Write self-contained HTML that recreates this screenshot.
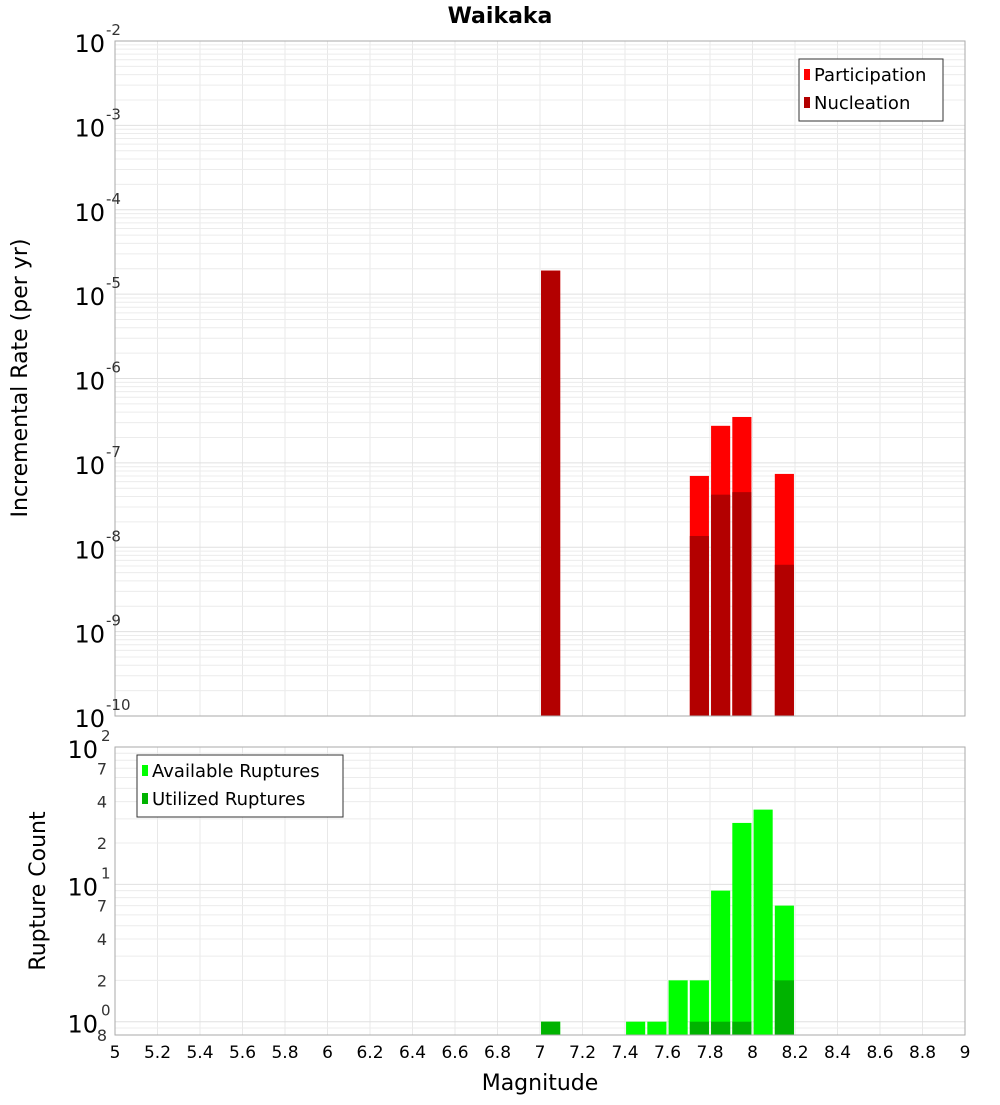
<!DOCTYPE html>
<html><head><meta charset="utf-8"><style>
body{margin:0;background:#fff;font-family:"Liberation Sans","DejaVu Sans",sans-serif}
svg text{font-family:"DejaVu Sans","Liberation Sans",sans-serif}
</style></head><body>
<svg id="c" width="1000" height="1100" xmlns="http://www.w3.org/2000/svg">
<text x="500" y="23" text-anchor="middle" font-size="22" font-weight="bold">Waikaka</text>
<text transform="translate(27,378) rotate(-90)" text-anchor="middle" font-size="22">Incremental Rate (per yr)</text>
<text transform="translate(45,891) rotate(-90)" text-anchor="middle" font-size="22">Rupture Count</text>
<text x="540" y="1090" text-anchor="middle" font-size="22">Magnitude</text>
<g id="topg"></g>
<g id="botg"></g>
</svg>
<script>
const mags=[7.05,7.75,7.85,7.95,8.15];
const participation=[1.9e-5,7e-8,2.75e-7,3.5e-7,7.4e-8];
const nucleation=[1.9e-5,1.36e-8,4.2e-8,4.5e-8,6.2e-9];
const countMags=[7.05,7.45,7.55,7.65,7.75,7.85,7.95,8.05,8.15];
const available=[1,1,1,2,2,9,28,35,7];
const utilized=[1,0,0,0,1,1,1,0,2];
const xTicks=[5,5.2,5.4,5.6,5.8,6,6.2,6.4,6.6,6.8,7,7.2,7.4,7.6,7.8,8,8.2,8.4,8.6,8.8,9];

const NS="http://www.w3.org/2000/svg";
const L=115,R=965;
const X=m=>L+(m-5)/4*(R-L);
const T0=41,T1=716,B0=747,B1=1035;
const Yt=v=>T0+(-2-Math.log10(v))/8*(T1-T0);
const bmin=Math.log10(0.8);
const Yb=v=>B0+(2-Math.log10(v))/(2-bmin)*(B1-B0);
function el(p,t,a){const e=document.createElementNS(NS,t);for(const k in a)e.setAttribute(k,a[k]);p.appendChild(e);return e;}
const gTop=document.getElementById('topg'),gBot=document.getElementById('botg');
el(gTop,'rect',{x:L,y:T0,width:R-L,height:T1-T0,fill:'#fff'});
el(gBot,'rect',{x:L,y:B0,width:R-L,height:B1-B0,fill:'#fff'});
for(const t of xTicks){
  for(const [g,y0,y1] of [[gTop,T0,T1],[gBot,B0,B1]]){
    const l=el(g,'line',{x1:X(t),x2:X(t),y1:y0,y2:y1,stroke:'#e8e8e8','stroke-width':1});
    
    
  }
}
for(let d=-10;d<-2;d++){for(let k=1;k<10;k++){const y=Yt(k*Math.pow(10,d));
  const l=el(gTop,'line',{x1:L,x2:R,y1:y,y2:y,stroke:k==1?'#e0e0e0':'#ececec','stroke-width':1});
  
  }}
for(let d=-1;d<2;d++){for(let k=1;k<10;k++){const v=k*Math.pow(10,d);if(v<0.8)continue;const y=Yb(v);
  const l=el(gBot,'line',{x1:L,x2:R,y1:y,y2:y,stroke:k==1?'#e0e0e0':'#ececec','stroke-width':1});
  
  }}
mags.forEach((m,i)=>{
  const x0=X(m-0.045),w=X(m+0.045)-x0;
  const p=el(gTop,'rect',{x:x0,y:Yt(participation[i]),width:w,height:T1-Yt(participation[i]),fill:'#ff0000'});
  
  
  const n=el(gTop,'rect',{x:x0,y:Yt(nucleation[i]),width:w,height:T1-Yt(nucleation[i]),fill:'#b30000'});
  
  
});
countMags.forEach((m,i)=>{
  const x0=X(m-0.045),w=X(m+0.045)-x0;
  const a=el(gBot,'rect',{x:x0,y:Yb(available[i]),width:w,height:B1-Yb(available[i]),fill:'#00ff00'});
  
  
  if(utilized[i]>0){const u=el(gBot,'rect',{x:x0,y:Yb(utilized[i]),width:w,height:B1-Yb(utilized[i]),fill:'#00b300'});
  
  }
});
el(gTop,'rect',{x:L,y:T0,width:R-L,height:T1-T0,fill:'none',stroke:'#aaa'});
el(gBot,'rect',{x:L,y:B0,width:R-L,height:B1-B0,fill:'none',stroke:'#aaa'});
for(let d=-10;d<=-2;d++){
  const y=Yt(Math.pow(10,d));
  const t=el(gTop,'text',{x:105,y:y+11,'text-anchor':'end','font-size':24});
  
  
  t.textContent='10';
  const s=el(gTop,'text',{x:106,y:y-6,'font-size':15,fill:'#333'});
  
  
  s.textContent=String(d);
}
[[100,'2'],[10,'1'],[1,'0']].forEach(([v,e])=>{const y=Yb(v);
  const t=el(gBot,'text',{x:98,y:y+11,'text-anchor':'end','font-size':24});
  
  
  t.textContent='10';
  const s=el(gBot,'text',{x:101,y:y-6,'font-size':15,fill:'#333'});
  
  
  s.textContent=e;});
[70,40,20,7,4,2,0.8].forEach(v=>{const y=Yb(v);
  const t=el(gBot,'text',{x:107,y:y+6,'text-anchor':'end','font-size':16,fill:'#333'});
  
  
  t.textContent=v==0.8?'8':String(v%10==0?v/10:v);});
xTicks.forEach(t=>{
  const e=el(gBot,'text',{x:X(t),y:1058,'text-anchor':'middle','font-size':17});
  
  
  e.textContent=String(t);});
function legend(g,x,y,w,items,name){
  const b=el(g,'rect',{x:x,y:y,width:w,height:items.length*28+6,fill:'#fff',stroke:'#333'});
  
  
  items.forEach(([c,l],i)=>{
    el(g,'rect',{x:x+5,y:y+10+i*28,width:6,height:11,fill:c});
    const t=el(g,'text',{x:x+15,y:y+22+i*28,'font-size':18});
    
    
    t.textContent=l;});
}
legend(gTop,799,59,144,[['#ff0000','Participation'],['#b30000','Nucleation']],'rate-legend');
legend(gBot,137,755,206,[['#00ff00','Available Ruptures'],['#00b300','Utilized Ruptures']],'count-legend');
</script>
</body></html>
